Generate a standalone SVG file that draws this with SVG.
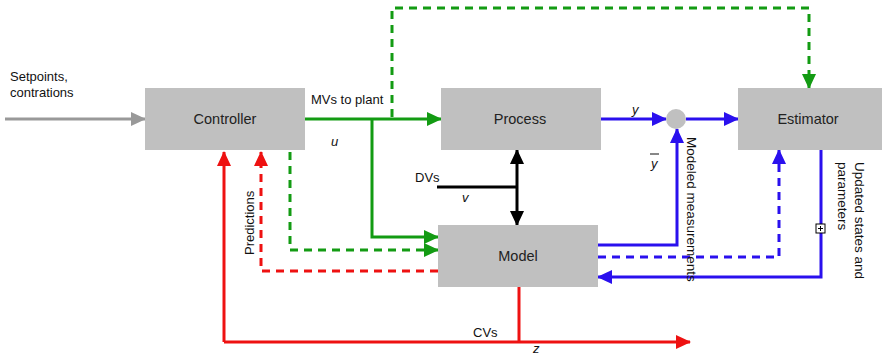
<svg xmlns="http://www.w3.org/2000/svg" width="887" height="357" viewBox="0 0 887 357">
<defs>
<style>
.box{fill:#c0c0c0}
.bl{font-family:"Liberation Sans",Arial,sans-serif;font-size:14.5px;fill:#222;text-anchor:middle}
.lb{font-family:"Liberation Sans",Arial,sans-serif;font-size:13px;fill:#111}
.it{font-style:italic}
.ln{fill:none;stroke-width:3}
.g{stroke:#139b13}.r{stroke:#ee1111}.b{stroke:#2a10ee}.k{stroke:#000}.gr{stroke:#999}
.d{stroke-dasharray:8,6}
</style>
<marker id="ag" markerUnits="userSpaceOnUse" markerWidth="16" markerHeight="16" refX="14" refY="8" orient="auto"><path d="M0,1 L15,8 L0,15 Z" fill="#139b13"/></marker>
<marker id="ar" markerUnits="userSpaceOnUse" markerWidth="16" markerHeight="16" refX="14" refY="8" orient="auto"><path d="M0,1 L15,8 L0,15 Z" fill="#ee1111"/></marker>
<marker id="ab" markerUnits="userSpaceOnUse" markerWidth="16" markerHeight="16" refX="14" refY="8" orient="auto"><path d="M0,1 L15,8 L0,15 Z" fill="#2a10ee"/></marker>
<marker id="ak" markerUnits="userSpaceOnUse" markerWidth="16" markerHeight="16" refX="14" refY="8" orient="auto"><path d="M0,1 L15,8 L0,15 Z" fill="#000"/></marker>
<marker id="agr" markerUnits="userSpaceOnUse" markerWidth="16" markerHeight="16" refX="14" refY="8" orient="auto"><path d="M0,1 L15,8 L0,15 Z" fill="#999"/></marker>
</defs>
<rect width="887" height="357" fill="#fff"/>
<g id="connectors">
<path class="ln gr" d="M5,119 H145" marker-end="url(#agr)"/>
<path class="ln g" d="M305,119 H441" marker-end="url(#ag)"/>
<path class="ln g" d="M372,119 V237 H438" marker-end="url(#ag)"/>
<path class="ln g d" d="M392,117 V8 H809 V88" marker-end="url(#ag)"/>
<path class="ln g d" d="M290,152 V250 H438" marker-end="url(#ag)"/>
<path class="ln r d" d="M438,271 H261 V152" marker-end="url(#ar)"/>
<path class="ln r" d="M224,342 V152" marker-end="url(#ar)"/>
<path class="ln r" d="M224,342 H690" marker-end="url(#ar)"/>
<path class="ln r" d="M519,287 V342"/>
<path class="ln k" d="M437,187 H517"/>
<path class="ln k" d="M517,187 V150" marker-end="url(#ak)"/>
<path class="ln k" d="M517,187 V225" marker-end="url(#ak)"/>
<path class="ln b" d="M601,119 H666" marker-end="url(#ab)"/>
<path class="ln b" d="M686,119 H738" marker-end="url(#ab)"/>
<path class="ln b" d="M598,245 H677 V129" marker-end="url(#ab)"/>
<path class="ln b d" d="M598,257 H779 V150" marker-end="url(#ab)"/>
<path class="ln b" d="M821,150 V277 H598" marker-end="url(#ab)"/>
<rect x="816" y="224" width="9" height="9" fill="#fff" stroke="#000" stroke-width="1"/>
<path d="M818,228.5 H823 M820.5,226 V231" stroke="#000" stroke-width="1"/>
</g>
<g id="controller"><rect class="box" x="145" y="88" width="160" height="62"/><text class="bl" x="225" y="124">Controller</text></g>
<g id="process"><rect class="box" x="441" y="88" width="160" height="62"/><text class="bl" x="520" y="124">Process</text></g>
<g id="estimator"><rect class="box" x="738" y="88" width="144" height="62"/><text class="bl" x="808" y="124">Estimator</text></g>
<g id="model"><rect class="box" x="438" y="225" width="160" height="62"/><text class="bl" x="518" y="261">Model</text></g>
<g id="junction"><circle cx="676" cy="119" r="10" fill="#c0c0c0"/></g>
<g id="labels">
<text class="lb" x="10" y="81">Setpoints,</text>
<text class="lb" x="10" y="97">contrations</text>
<text class="lb" x="311" y="104">MVs to plant</text>
<text class="lb it" x="331" y="146">u</text>
<text class="lb it" x="632" y="114">y</text>
<text class="lb it" x="651" y="168">y</text>
<path d="M650,154 H659" stroke="#111" stroke-width="1"/>
<text class="lb" x="415" y="182">DVs</text>
<text class="lb it" x="462" y="202">v</text>
<text class="lb" x="473" y="337">CVs</text>
<text class="lb it" x="533" y="353">z</text>
<text class="lb" transform="translate(254,255) rotate(-90)">Predictions</text>
<text class="lb" style="font-size:13.5px" transform="translate(687,137) rotate(90)">Modeled measurements</text>
<text class="lb" style="font-size:13.5px" transform="translate(855,162) rotate(90)">Updated states and</text>
<text class="lb" style="font-size:13.5px" transform="translate(838,162) rotate(90)">parameters</text>
</g>
</svg>
